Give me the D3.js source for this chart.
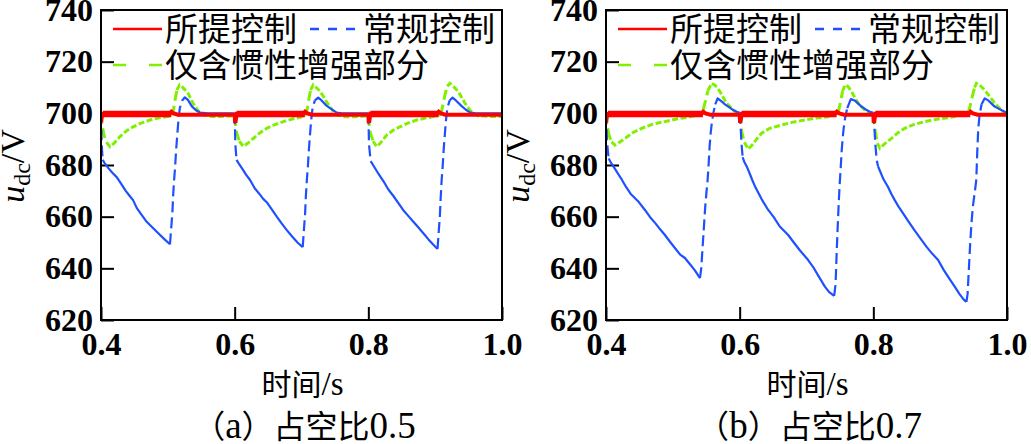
<!DOCTYPE html>
<html>
<head>
<meta charset="utf-8">
<script src="https://cdn.jsdelivr.net/npm/d3@7"></script>
<style>
  body { margin: 0; background: #fff; }
  svg { display: block; }
</style>
</head>
<body>
<svg id="chart" width="1031" height="444"></svg>
<script>
//#region DATA ///////////////////////////////////////////////////////////////

const xTicks = [0.4, 0.6, 0.8, 1.0];
const yTicks = [620, 640, 660, 680, 700, 720, 740];
const legendNames = ["所提控制", "常规控制", "仅含惯性增强部分"];
const captions = ["（a）占空比0.5", "（b）占空比0.7"];

// ripple band of the proposed control (lower / upper envelope, V)
const rippleBand = [698.5, 701.0];

// (a) duty 0.5 : [time s, udc V]
const redA = [[0.400, 696.5], [0.4015, 699.0], [0.403, 699.8], [0.503, 699.8], [0.5055, 700.6],
  [0.509, 700.0], [0.515, 699.5], [0.600, 699.5], [0.6005, 697.0], [0.6015, 697.0], [0.603, 699.8],
  [0.703, 699.8], [0.7055, 700.6], [0.709, 700.0], [0.715, 699.5], [0.800, 699.5], [0.8005, 697.0],
  [0.8015, 697.0], [0.803, 699.8], [0.903, 699.8], [0.9055, 700.6], [0.909, 700.0], [0.915, 699.5],
  [1.000, 699.5]];
const rippleA = [[0.403, 0.505], [0.603, 0.705], [0.803, 0.905]];

const blueA = [[0.400, 700.0], [0.4005, 694], [0.401, 688], [0.4025, 682.0], [0.406, 680.5],
  [0.411, 678.8], [0.417, 677.0], [0.4235, 675.3], [0.430, 672.8], [0.437, 670.0], [0.443, 668.0],
  [0.448, 666.4], [0.4534, 663.4], [0.460, 661.0], [0.4684, 658.0], [0.477, 655.8], [0.4857, 653.6],
  [0.494, 651.5], [0.5032, 649.3], [0.5043, 653.0], [0.5068, 661.5], [0.5079, 668.0], [0.5094, 674.2],
  [0.5109, 679.3], [0.5124, 685.8], [0.5143, 692.3], [0.5159, 697.4], [0.5179, 702.0], [0.5215, 705.0],
  [0.5255, 706.2], [0.530, 705.2], [0.5357, 702.8], [0.542, 701.2], [0.548, 700.3], [0.560, 700.0],
  [0.600, 700.0],
  [0.6005, 694], [0.601, 688], [0.6028, 682.0], [0.607, 680.2], [0.612, 678.3], [0.617, 676.3],
  [0.623, 674.2], [0.630, 671.0], [0.637, 668.8], [0.643, 666.8], [0.648, 665.6], [0.655, 663.0],
  [0.663, 660.0], [0.670, 657.5], [0.678, 654.8], [0.686, 652.3], [0.694, 650.0], [0.7018, 648.2],
  [0.7029, 652.3], [0.7054, 661.3], [0.7065, 667.7], [0.708, 674.2], [0.7095, 679.3], [0.711, 685.8],
  [0.7129, 692.3], [0.7145, 697.4], [0.7165, 702.0], [0.720, 705.0], [0.725, 706.1], [0.730, 705.0],
  [0.736, 703.3], [0.7426, 702.0], [0.7527, 700.3], [0.760, 700.0], [0.800, 700.0],
  [0.8005, 694], [0.801, 688], [0.8035, 681.5], [0.808, 679.6], [0.813, 677.5], [0.818, 675.5],
  [0.8225, 673.8], [0.830, 670.5], [0.8375, 668.0], [0.845, 665.2], [0.852, 662.6], [0.860, 660.2],
  [0.8674, 658.0], [0.875, 655.8], [0.8823, 653.6], [0.890, 651.2], [0.897, 649.2], [0.9035, 647.5],
  [0.9046, 651.5], [0.9071, 660.5], [0.9082, 667.0], [0.9097, 674.2], [0.9112, 679.3], [0.9127, 685.8],
  [0.9146, 692.3], [0.9162, 697.4], [0.9182, 702.0], [0.9217, 705.0], [0.926, 706.1], [0.931, 705.0],
  [0.9397, 702.8], [0.946, 701.4], [0.952, 700.4], [0.960, 700.0], [1.000, 700.0]];

const greenA = [[0.400, 700.0], [0.4015, 696], [0.404, 692], [0.408, 688.8], [0.4135, 687.1],
  [0.419, 688.3], [0.4285, 691.0], [0.438, 693.2], [0.448, 694.8], [0.460, 696.2], [0.4733, 697.4],
  [0.486, 698.2], [0.498, 698.7], [0.506, 699.2], [0.5085, 701.5], [0.511, 705.5], [0.5135, 709.0],
  [0.5175, 711.0], [0.5215, 710.2], [0.526, 709.0], [0.5306, 707.6], [0.5355, 705.0], [0.5407, 702.6],
  [0.547, 700.5], [0.553, 699.4], [0.565, 698.8], [0.580, 698.8], [0.600, 699.0],
  [0.6005, 697], [0.603, 692.5], [0.607, 689.2], [0.613, 687.2], [0.619, 688.3], [0.628, 690.3],
  [0.638, 692.5], [0.648, 694.2], [0.660, 695.6], [0.673, 696.8], [0.686, 697.8], [0.698, 698.5],
  [0.706, 699.2], [0.7085, 701.5], [0.711, 705.5], [0.7135, 709.0], [0.7175, 711.0], [0.722, 710.0],
  [0.728, 708.5], [0.733, 706.4], [0.738, 704.2], [0.7426, 702.6], [0.7475, 700.8], [0.7527, 699.4],
  [0.765, 698.7], [0.780, 698.7], [0.800, 699.0],
  [0.8005, 697], [0.803, 692.5], [0.807, 689.2], [0.8125, 687.1], [0.818, 688.5], [0.8275, 691.6],
  [0.837, 693.4], [0.8474, 694.8], [0.860, 696.3], [0.8724, 697.4], [0.888, 698.3], [0.9025, 699.0],
  [0.9085, 699.6], [0.911, 702.5], [0.9145, 707.0], [0.918, 710.5], [0.922, 711.6], [0.927, 710.5],
  [0.9347, 708.4], [0.9395, 706.2], [0.9447, 703.9], [0.951, 701.6], [0.957, 700.0], [0.965, 699.0],
  [0.980, 698.8], [1.000, 698.8]];

// (b) duty 0.7
const redB = [[0.400, 696.5], [0.4015, 699.0], [0.403, 699.8], [0.543, 699.8], [0.5455, 700.6],
  [0.549, 700.0], [0.556, 699.5], [0.600, 699.5], [0.6005, 697.0], [0.6015, 697.0], [0.603, 699.8],
  [0.743, 699.8], [0.7455, 700.6], [0.749, 700.0], [0.756, 699.5], [0.800, 699.5], [0.8005, 697.0],
  [0.8015, 697.0], [0.803, 699.8], [0.943, 699.8], [0.9455, 700.6], [0.949, 700.0], [0.956, 699.5],
  [1.000, 699.5]];
const rippleB = [[0.403, 0.545], [0.603, 0.745], [0.803, 0.945]];

const blueB = [[0.400, 700.0], [0.4008, 694], [0.4018, 688], [0.404, 682.5], [0.408, 680.6],
  [0.413, 678.7], [0.418, 676.6], [0.4235, 674.4], [0.430, 671.5], [0.437, 668.8], [0.448, 666.0],
  [0.4583, 662.6], [0.466, 659.8], [0.474, 657.4], [0.481, 655.1], [0.4882, 652.9], [0.496, 650.2],
  [0.504, 647.6], [0.511, 645.3], [0.5181, 644.0], [0.526, 641.5], [0.533, 639.2], [0.5406, 636.2],
  [0.5425, 640], [0.5445, 648], [0.5465, 656], [0.5485, 664], [0.5505, 670], [0.552, 674],
  [0.5535, 680], [0.555, 687], [0.5565, 692], [0.558, 695.5], [0.5605, 700], [0.5635, 703.5],
  [0.567, 705.8], [0.573, 704.6], [0.578, 703.5], [0.583, 702.6], [0.589, 701.5], [0.5955, 700.6],
  [0.600, 700.2],
  [0.6015, 695], [0.6025, 689], [0.6045, 683], [0.6068, 681.3], [0.611, 679.2], [0.6153, 676.5],
  [0.6188, 674.2], [0.6228, 671.8], [0.6328, 666.8], [0.6427, 662.6], [0.651, 659.8], [0.660, 656.2],
  [0.6726, 652.9], [0.681, 650.0], [0.690, 647.0], [0.7025, 643.2], [0.710, 640.5], [0.718, 637.0],
  [0.7275, 632.9], [0.734, 630.8], [0.7414, 629.3],
  [0.7435, 634], [0.745, 645], [0.7465, 655], [0.748, 664], [0.7495, 672], [0.751, 678],
  [0.7525, 685], [0.754, 690], [0.7555, 694], [0.758, 698.5], [0.761, 702], [0.7663, 705.5],
  [0.772, 705.0], [0.7823, 702.6], [0.7885, 701.5], [0.7947, 700.6], [0.800, 700.2],
  [0.8015, 695], [0.803, 688], [0.805, 682], [0.807, 679.5], [0.8146, 674.8], [0.822, 671.5],
  [0.827, 668.8], [0.832, 666.4], [0.838, 663.8], [0.8445, 661.3], [0.853, 658.0], [0.862, 654.6],
  [0.872, 651.0], [0.880, 648.2], [0.888, 645.7], [0.8969, 643.2], [0.905, 639.5], [0.913, 636.3],
  [0.9218, 632.9], [0.929, 630.0], [0.935, 628.0], [0.9393, 627.0],
  [0.941, 630], [0.943, 640], [0.945, 650], [0.947, 658], [0.949, 664], [0.951, 668],
  [0.9525, 671], [0.954, 674], [0.9555, 685], [0.957, 694], [0.959, 699.5], [0.962, 703.5],
  [0.9667, 705.8], [0.972, 705.0], [0.9816, 702.6], [0.9966, 700.6], [1.000, 700.4]];

const greenB = [[0.400, 700.0], [0.4015, 696], [0.404, 692], [0.408, 689], [0.4135, 687.7],
  [0.419, 688.6], [0.4284, 690.3], [0.440, 692.5], [0.4533, 694.2], [0.470, 695.8], [0.4882, 696.8],
  [0.505, 697.8], [0.5231, 698.5], [0.5406, 699.4], [0.5435, 700.0], [0.5455, 701.3], [0.549, 705.0],
  [0.5525, 708.8], [0.558, 711.6], [0.5635, 710.8], [0.5705, 708.4], [0.5804, 703.9], [0.5929, 700.6],
  [0.600, 699.8],
  [0.6005, 697.5], [0.603, 693], [0.607, 688.8], [0.6128, 686.2], [0.618, 687.5], [0.625, 689.9],
  [0.6328, 692.3], [0.645, 694.2], [0.6627, 695.5], [0.680, 696.6], [0.6975, 697.4], [0.715, 698.2],
  [0.7324, 698.7], [0.740, 699.4], [0.7474, 700.2], [0.7505, 704.0], [0.754, 708.5], [0.7574, 711.0],
  [0.762, 710.4], [0.7674, 708.4], [0.7773, 703.9], [0.7923, 700.0], [0.800, 699.6],
  [0.8005, 697.5], [0.803, 693], [0.806, 688.5], [0.8097, 686.5], [0.816, 688.0], [0.8272, 690.3],
  [0.837, 692.5], [0.847, 694.2], [0.860, 695.6], [0.877, 696.8], [0.897, 697.8], [0.9169, 698.5],
  [0.930, 699.3], [0.9418, 700.2], [0.945, 703.0], [0.9485, 707.0], [0.9515, 710.0], [0.9543, 711.6],
  [0.959, 711.0], [0.9667, 709.0], [0.974, 706.5], [0.9816, 703.9], [0.994, 700.6], [1.000, 699.8]];

//#endregion

//#region DRAWING ////////////////////////////////////////////////////////////

const PLOT_W = 401, PLOT_TOP = 10, PLOT_BOTTOM = 320, TICK_LEN = 13;
const RED = "#ff0000", BLUE = "#1e50ff", GREEN = "#80f000";
const SERIF = "'Liberation Serif', 'Times New Roman', serif";
const CJK = "'Noto Sans CJK SC', sans-serif";

const panels = [
  { left: 101, red: redA, ripple: rippleA, blue: blueA, green: greenA, caption: captions[0] },
  { left: 606, red: redB, ripple: rippleB, blue: blueB, green: greenB, caption: captions[1] }
];

const svg = d3.select("#chart");

panels.forEach((p, i) => drawPanel(p, i));

/* Split a series into runs of steep and gentle segments (in screen pixels).
 * Steep jumps are drawn dashed, gentle stretches look solid, the way the
 * dense simulation trace renders in the original figure. */
function splitRuns(points, x, y)
{
  const runs = [];
  let cur = null;
  for (const [a, b] of d3.pairs(points))
  {
    const dx = Math.abs(x(b[0]) - x(a[0])), dy = Math.abs(y(b[1]) - y(a[1]));
    const steep = dy > 3 * dx;
    if (!cur || cur.steep !== steep)
    {
      cur = { steep: steep, pts: [a] };
      runs.push(cur);
    }
    cur.pts.push(b);
  }
  return runs;
}

/** append text where latin runs use the serif face and the rest the CJK face */
function mixedText(sel, str, cjkSize, latinSize)
{
  for (const part of str.split(/([A-Za-z0-9.\/]+)/).filter(s => s.length))
  {
    const latin = /^[A-Za-z0-9.\/]+$/.test(part);
    sel.append("tspan")
      .style("font-family", latin ? SERIF : CJK)
      .style("font-size", (latin ? latinSize : cjkSize) + "px")
      .text(part);
  }
}

function drawPanel(p, idx)
{
  const x = d3.scaleLinear().domain([0.4, 1.0]).range([p.left, p.left + PLOT_W]);
  const y = d3.scaleLinear().domain([620, 740]).range([PLOT_BOTTOM, PLOT_TOP]);
  const g = svg.append("g");
  const cx = p.left + PLOT_W / 2;

  g.append("clipPath").attr("id", "clip" + idx)
    .append("rect")
    .attr("x", p.left).attr("y", PLOT_TOP)
    .attr("width", PLOT_W).attr("height", PLOT_BOTTOM - PLOT_TOP);

  // axes
  const yAxis = g.append("g").attr("transform", `translate(${p.left},0)`)
    .call(d3.axisLeft(y).tickValues(yTicks).tickSize(-TICK_LEN).tickPadding(8));
  const xAxis = g.append("g").attr("transform", `translate(0,${PLOT_BOTTOM})`)
    .call(d3.axisBottom(x).tickValues(xTicks).tickSize(-TICK_LEN).tickPadding(12)
      .tickFormat(d3.format(".1f")));
  for (const ax of [yAxis, xAxis])
  {
    ax.select(".domain").remove();
    ax.selectAll(".tick line").attr("stroke", "#000").attr("stroke-width", 2);
    ax.selectAll(".tick text")
      .attr("fill", "#000")
      .style("font-family", SERIF).style("font-size", "32px").style("font-weight", "bold");
  }

  // curves
  const plot = g.append("g").attr("clip-path", `url(#clip${idx})`);
  const line = d3.line().x(d => x(d[0])).y(d => y(d[1]));

  const greenRuns = splitRuns(p.green, x, y);
  plot.append("path")
    .attr("d", greenRuns.filter(r => !r.steep).map(r => line(r.pts)).join(""))
    .attr("fill", "none").attr("stroke", GREEN).attr("stroke-width", 3)
    .attr("stroke-dasharray", "6,2.5");
  plot.append("path")
    .attr("d", greenRuns.filter(r => r.steep).map(r => line(r.pts)).join(""))
    .attr("fill", "none").attr("stroke", GREEN).attr("stroke-width", 3)
    .attr("stroke-dasharray", "10,5");

  const blueRuns = splitRuns(p.blue, x, y);
  plot.append("path")
    .attr("d", blueRuns.filter(r => !r.steep).map(r => line(r.pts)).join(""))
    .attr("fill", "none").attr("stroke", BLUE).attr("stroke-width", 2.2)
    .attr("stroke-linejoin", "round");
  plot.append("path")
    .attr("d", blueRuns.filter(r => r.steep).map(r => line(r.pts)).join(""))
    .attr("fill", "none").attr("stroke", BLUE).attr("stroke-width", 2.2)
    .attr("stroke-dasharray", "11,5");

  const band = d3.area().x(d => x(d)).y0(y(rippleBand[0])).y1(y(rippleBand[1]));
  plot.selectAll(".ripple").data(p.ripple).join("path")
    .attr("class", "ripple")
    .attr("d", d => band(d))
    .attr("fill", RED);

  plot.append("path")
    .attr("d", line(p.red))
    .attr("fill", "none").attr("stroke", RED).attr("stroke-width", 4);

  // frame
  g.append("rect")
    .attr("x", p.left).attr("y", PLOT_TOP)
    .attr("width", PLOT_W).attr("height", PLOT_BOTTOM - PLOT_TOP)
    .attr("fill", "none").attr("stroke", "#000").attr("stroke-width", 2);

  // legend
  const legend = [
    { name: legendNames[0], color: RED, dash: null, x: 12, y: 29, tx: 64 },
    { name: legendNames[1], color: BLUE, dash: "9,9", x: 209, y: 29, tx: 262 },
    { name: legendNames[2], color: GREEN, dash: "13,23", x: 12, y: 65, tx: 64 }
  ];
  const lg = g.selectAll(".legend").data(legend).join("g").attr("class", "legend");
  lg.append("line")
    .attr("x1", d => p.left + d.x).attr("x2", d => p.left + d.x + 49)
    .attr("y1", d => d.y).attr("y2", d => d.y)
    .attr("stroke", d => d.color).attr("stroke-width", 2.5)
    .attr("stroke-dasharray", d => d.dash);
  lg.append("text")
    .attr("x", d => p.left + d.tx).attr("y", d => d.y + 12)
    .style("font-family", CJK).style("font-size", "33px")
    .text(d => d.name);

  // y label u_dc/V
  const yl = g.append("text")
    .attr("transform", `translate(${p.left - 77},166) rotate(-90)`)
    .attr("text-anchor", "middle")
    .style("font-family", SERIF).style("font-size", "34px");
  yl.append("tspan").style("font-style", "italic").text("u");
  yl.append("tspan").attr("dy", 6).style("font-size", "24px").text("dc");
  yl.append("tspan").attr("dy", -6).text("/V");

  // x label
  const xl = g.append("text")
    .attr("x", cx + 1).attr("y", 395)
    .attr("text-anchor", "middle");
  mixedText(xl, "时间/s", 30, 33);

  // caption
  const cap = g.append("text")
    .attr("x", cx + 3).attr("y", 438)
    .attr("text-anchor", "middle");
  mixedText(cap, p.caption, 32, 37);
}

//#endregion
</script>
</body>
</html>
